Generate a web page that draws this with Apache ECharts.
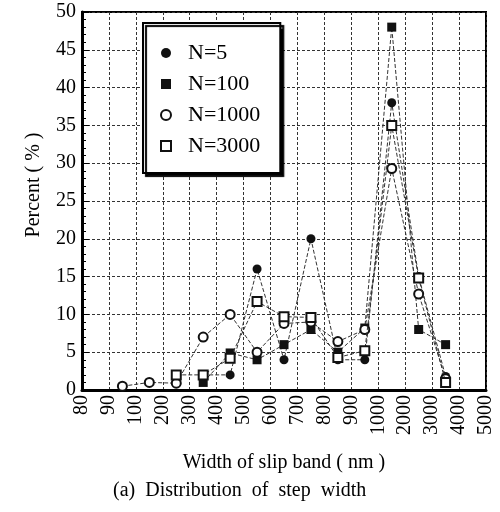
<!DOCTYPE html>
<html>
<head>
<meta charset="utf-8">
<script src="https://cdn.jsdelivr.net/npm/echarts@6/dist/echarts.min.js"></script>
<style>html,body{margin:0;padding:0;background:#fff;}#c{width:500px;height:512px;}</style>
</head>
<body>
<div id="c"></div>
<script>
// Bin edges (x tick labels), 15 bins between them
var binEdges = [80, 90, 100, 200, 300, 400, 500, 600, 700, 800, 900, 1000, 2000, 3000, 4000, 5000];
var seriesNames = ['N=5', 'N=100', 'N=1000', 'N=3000'];
// Percent in each bin (null = no point)
var n5    = [null, null, null, null, 2,   2,   16,  4,   20,  4,   4,   38,   15,   1.8, null];
var n100  = [null, null, null, null, 1,   4.9, 4,   6,   8,   5,   8.2, 48,   8,    6,   null];
var n1000 = [null, 0.5,  1,    0.9,  7,   10,  5,   8.8, 9,   6.4, 8,   29.3, 12.7, 1.5, null];
var n3000 = [null, null, null, 2,    2,   4.2, 11.7,9.7, 9.6, 4.3, 5.2, 35,   14.8, 1,   null];
var yTicks = [0, 5, 10, 15, 20, 25, 30, 35, 40, 45, 50];

var FONT = 'Liberation Serif';
function toPairs(arr) {
  var out = [];
  arr.forEach(function (v, i) { if (v !== null) out.push([i + 0.5, v]); });
  return out;
}
var styles = [
  { symbol: 'circle', fill: '#111', border: '#111', bw: 0, size: 9 },
  { symbol: 'rect', fill: '#111', border: '#111', bw: 0, size: 9 },
  { symbol: 'circle', fill: '#fff', border: '#111', bw: 2, size: 9 },
  { symbol: 'rect', fill: '#fff', border: '#111', bw: 2, size: 9 }
];
var allData = [n5, n100, n1000, n3000];
var series = allData.map(function (arr, k) {
  var s = styles[k];
  return {
    name: seriesNames[k], type: 'line', data: toPairs(arr),
    symbol: s.symbol, symbolSize: s.size,
    itemStyle: { color: s.fill, borderColor: s.border, borderWidth: s.bw },
    lineStyle: { color: '#333', width: 1, type: [4, 2] },
    z: 3 + k
  };
});

var chart = echarts.init(document.getElementById('c'));
chart.setOption({
  animation: false,
  backgroundColor: '#fff',
  textStyle: { fontFamily: FONT },
  grid: { left: 82, right: 14, top: 12, bottom: 122, show: true, borderColor: '#000', borderWidth: 2, backgroundColor: 'transparent' },
  legend: {
    orient: 'vertical', left: 143, top: 23,
    data: seriesNames.map(function (n, k) { return { name: n, icon: styles[k].symbol }; }),
    itemWidth: 10, itemHeight: 10, itemGap: 9, itemTextGap: 22,
    padding: [19, 20, 16, 17],
    backgroundColor: '#fff', borderColor: '#000', borderWidth: 2,
    shadowColor: '#000', shadowBlur: 1, shadowOffsetX: 3, shadowOffsetY: 3,
    textStyle: { fontFamily: FONT, fontSize: 22, color: '#000', lineHeight: 21, padding: [0, 0, 0, 12] }
  },
  xAxis: {
    type: 'value', min: 0, max: binEdges.length - 1, interval: 1,
    name: 'Width of slip band ( nm )', nameLocation: 'middle', nameGap: 63,
    nameTextStyle: { fontFamily: FONT, fontSize: 20, color: '#000' },
    axisLine: { show: true, lineStyle: { color: '#000', width: 3 } },
    axisTick: { show: false },
    axisLabel: { rotate: 90, margin: 5, fontFamily: FONT, fontSize: 20, color: '#000',
      formatter: function (v) { return String(binEdges[Math.round(v)]); } },
    splitLine: { show: true, lineStyle: { color: '#333', width: 1, type: [3, 2] } }
  },
  yAxis: {
    type: 'value', min: yTicks[0], max: yTicks[yTicks.length - 1], interval: 5,
    name: 'Percent ( % )', nameLocation: 'middle', nameGap: 38,
    nameTextStyle: { fontFamily: FONT, fontSize: 20, color: '#000', padding: [0, 0, 0, 32] },
    axisLine: { show: true, lineStyle: { color: '#000', width: 3 } },
    axisTick: { show: true, inside: true, length: 7, lineStyle: { color: '#000', width: 1 } },
    minorTick: { show: true, splitNumber: 5, length: 4, lineStyle: { color: '#000', width: 1 } },
    axisLabel: { margin: 6, fontFamily: FONT, fontSize: 20, color: '#000' },
    splitLine: { show: true, lineStyle: { color: '#333', width: 1, type: [3, 2] } }
  },
  title: {
    text: '(a)  Distribution  of  step  width', left: 108, top: 476,
    textStyle: { fontFamily: FONT, fontSize: 20, fontWeight: 'normal', color: '#000' }
  },
  series: series
});
</script>
</body>
</html>
